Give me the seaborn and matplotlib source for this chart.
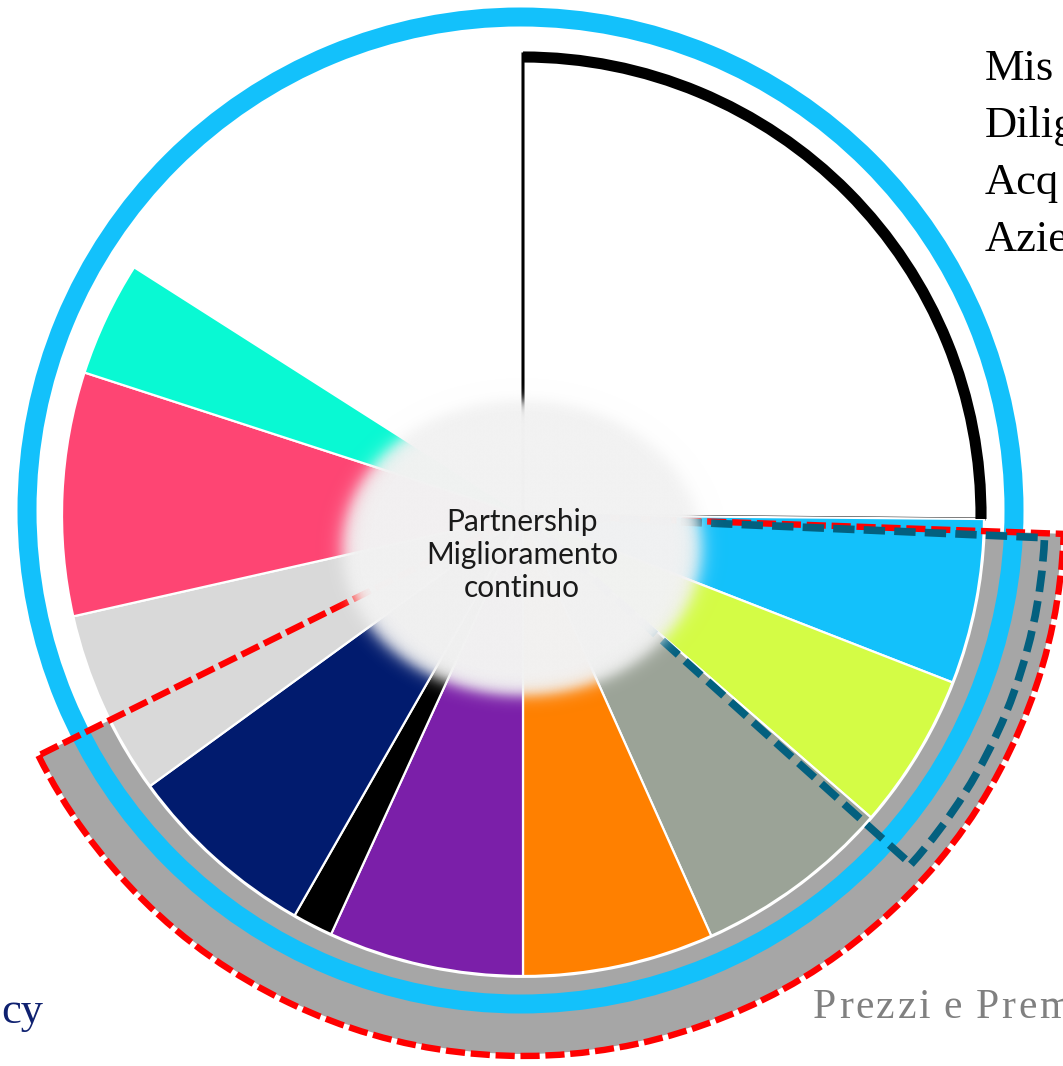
import numpy as np
import matplotlib
matplotlib.use("Agg")
import matplotlib.pyplot as plt
from matplotlib.patches import Wedge, Arc
import seaborn as sns

# canvas in pixels
W, H = 1063, 1066

# slice sizes in degrees, clockwise from 12 o'clock
slice_names = ["bordato", "azzurro", "lime", "salvia", "arancio", "viola",
               "nero", "blu notte", "grigio", "rosa", "acqua", "vuoto"]
slice_sizes = [90.5, 20.8, 19.7, 24.9, 24.1, 24.6, 5.1, 24.3, 23.3, 30.7, 14.5, 57.5]
slice_colors = ["#FFFFFF", "#13C1FB", "#D4FC45", "#9BA397", "#FF8000", "#7B1FA9",
                "#000000", "#011B6E", "#D9D9D9", "#FE4573", "#09F9D3", "none"]

# highlighted spans (degrees, counter-clockwise from 3 o'clock)
red_span = (-153.6, -2.0)
teal_span = (-42.0, -2.5)

center_lines = ["Partnership", "Miglioramento", "continuo"]
side_labels = ["Mis", "Dilig", "Acq", "Azie"]
bottom_left_label = "cy"
bottom_right_label = "Prezzi e Prem"

SKY = "#13C1FB"

sns.set_theme(style="white")
plt.rcParams["font.family"] = ["Lato", "DejaVu Sans"]

fig = plt.figure(figsize=(W / 100, H / 100), dpi=100)
ax = fig.add_axes([0, 0, 1, 1])
ax.set_xlim(0, W)
ax.set_ylim(0, H)

pie_c = (523, H - 515)
pie_r = 461
ring_c = (520.5, H - 510.5)

wedges, _ = ax.pie(slice_sizes, colors=slice_colors, startangle=90, counterclock=False,
                   center=pie_c, radius=pie_r,
                   wedgeprops=dict(edgecolor="white", linewidth=1.6))
for w in wedges:
    w.set_zorder(2)
wedges[0].set_edgecolor("black")
wedges[0].set_linewidth(2.2)
wedges[-1].set_edgecolor("none")

# thick outer rim on the first slice
ax.add_patch(Arc(pie_c, 2 * 458, 2 * 458, theta1=wedges[0].theta1, theta2=wedges[0].theta2,
                 color="black", linewidth=8, zorder=3))

# grey band behind the highlighted span
ax.add_patch(Wedge(pie_c, 539, red_span[0], red_span[1], width=76,
                   facecolor="#A6A6A6", edgecolor="none", zorder=1))

# outer blue ring
ax.add_patch(Wedge(ring_c, 503, 0, 360, width=19, facecolor=SKY, edgecolor="none", zorder=3))

# dashed highlight outlines
ax.add_patch(Wedge(pie_c, 541, red_span[0], red_span[1], fill=False, edgecolor="#FF0000",
                   linewidth=4.6, linestyle=(0, (3, 0.9)), zorder=4))
ax.add_patch(Wedge(pie_c, 522, teal_span[0], teal_span[1], fill=False, edgecolor="#03607F",
                   linewidth=5.5, linestyle=(0, (2.8, 1.2)), zorder=4.5))

# soft-edged central disc
cx, cy, a, b = 522, H - 548, 180, 148
xs = np.linspace(cx - a - 40, cx + a + 40, 500)
ys = np.linspace(cy - b - 40, cy + b + 40, 420)
X, Y = np.meshgrid(xs, ys)
d = np.sqrt(((X - cx) / a) ** 2 + ((Y - cy) / b) ** 2)
alpha = 1 / (1 + np.exp((d - 1) * 165 / 4.5))
rgba = np.zeros(X.shape + (4,))
rgba[..., :3] = 0xF2 / 255
rgba[..., 3] = alpha
ax.imshow(rgba, extent=(xs[0], xs[-1], ys[0], ys[-1]), origin="lower",
          interpolation="bilinear", zorder=5)

ax.text(cx, H - 555, "\n".join(center_lines), ha="center", va="center", fontsize=21.5,
        color="#1A1A1A", linespacing=1.22, zorder=6)

serif = ["Liberation Serif", "DejaVu Serif"]
for i, lab in enumerate(side_labels):
    ax.text(985, H - (80 + 57 * i), lab, ha="left", va="baseline", fontsize=32,
            family=serif, color="black")
ax.text(1, H - 1023, bottom_left_label, ha="left", va="baseline", fontsize=32,
        family=serif, color="#0F2170")

# letter-spaced grey label, placed glyph by glyph
ax.set_aspect("auto")
renderer = fig.canvas.get_renderer()
x = 813
for ch in bottom_right_label:
    if ch == " ":
        x += 11
        continue
    t = ax.text(x, H - 1018, ch, ha="left", va="baseline", fontsize=30,
                family=serif, color="#808080")
    x += t.get_window_extent(renderer).width + 2.6

ax.set_xlim(0, W)
ax.set_ylim(0, H)
ax.set_aspect("auto")
ax.set_axis_off()

fig.savefig("out.png", dpi=100)
